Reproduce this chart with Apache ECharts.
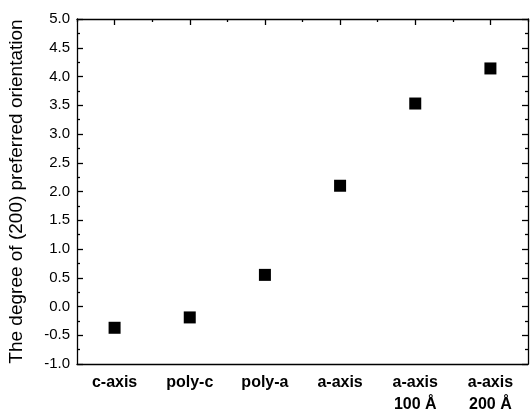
<!DOCTYPE html>
<html>
<head>
<meta charset="utf-8">
<script src="https://cdn.jsdelivr.net/npm/echarts@6/dist/echarts.min.js"></script>
<style>
  html, body { margin: 0; padding: 0; background: #fff; }
  #chart { width: 531px; height: 413px; }
</style>
</head>
<body>
<div id="chart"></div>
<script>
// sample labels along x
const categories = ["c-axis", "poly-c", "poly-a", "a-axis", "a-axis\n100 Å", "a-axis\n200 Å"];
// degree of (200) preferred orientation
const degreeValues = [-0.37, -0.19, 0.55, 2.1, 3.53, 4.14];
const yMin = -1.0;
const yMax = 5.0;
const yStep = 0.5;

const chart = echarts.init(document.getElementById("chart"));

const lineStyle = { color: "#000", width: 1.3 };

chart.setOption({
    animation: false,
    grid: { left: 77, right: 3, top: 19, bottom: 49, outerBoundsMode: "none" },
    xAxis: [
        {
            type: "category",
            data: categories,
            position: "bottom",
            axisLine: { onZero: false, lineStyle: lineStyle },
            axisTick: { inside: true, alignWithLabel: true, length: 6, lineStyle: lineStyle },
            axisLabel: {
                color: "#000",
                fontFamily: "Liberation Sans",
                fontWeight: "bold",
                fontSize: 16,
                margin: 8,
                lineHeight: 22,
            },
        },
        {
            // top frame: short ticks at category borders, long ones at centres
            type: "value",
            position: "top",
            min: 0,
            max: categories.length,
            interval: 1,
            axisLine: { show: true, onZero: false, lineStyle: lineStyle },
            axisTick: { show: true, inside: true, length: 3, lineStyle: lineStyle },
            minorTick: { show: true, splitNumber: 2, length: 6, lineStyle: lineStyle },
            splitLine: { show: false },
            axisLabel: { show: false },
        },
    ],
    yAxis: [
        {
            type: "value",
            min: yMin,
            max: yMax,
            interval: yStep,
            name: "The degree of (200) preferred orientation",
            nameLocation: "middle",
            nameGap: 51,
            nameTextStyle: { color: "#000", fontFamily: "Liberation Sans", fontSize: 19 },
            axisLine: { show: true, onZero: false, lineStyle: lineStyle },
            axisTick: { inside: true, length: 6, lineStyle: lineStyle },
            minorTick: { show: true, splitNumber: 2, length: 3, lineStyle: lineStyle },
            splitLine: { show: false },
            axisLabel: {
                color: "#000",
                fontFamily: "Liberation Sans",
                fontSize: 15,
                margin: 7,
                formatter: v => v.toFixed(1),
            },
        },
        {
            type: "value",
            min: yMin,
            max: yMax,
            interval: yStep,
            position: "right",
            axisLine: { show: true, onZero: false, lineStyle: lineStyle },
            axisTick: { inside: true, length: 6, lineStyle: lineStyle },
            minorTick: { show: true, splitNumber: 2, length: 3, lineStyle: lineStyle },
            splitLine: { show: false },
            axisLabel: { show: false },
        },
    ],
    series: [
        {
            type: "scatter",
            data: degreeValues,
            symbol: "rect",
            symbolSize: 12,
            itemStyle: { color: "#000", opacity: 1 },
        },
    ],
});
</script>
</body>
</html>
